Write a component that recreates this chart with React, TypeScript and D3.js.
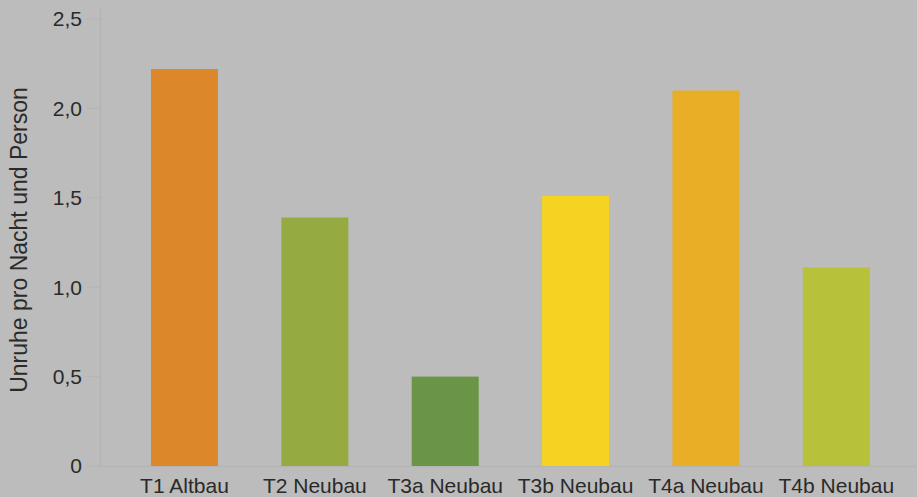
import React from "react";
import * as d3 from "d3";

const categories = ["T1 Altbau", "T2 Neubau", "T3a Neubau", "T3b Neubau", "T4a Neubau", "T4b Neubau"];
const values = [2.22, 1.39, 0.5, 1.51, 2.1, 1.11];
const colors = ["#dc8729", "#95ab42", "#6a9546", "#f5d320", "#e8af26", "#b7c23a"];
const yTicks = [0, 0.5, 1.0, 1.5, 2.0, 2.5];
const yTitle = "Unruhe pro Nacht und Person";

const W = 917;
const H = 497;

export default function App() {
  const y = d3.scaleLinear().domain([0, 2.5]).range([466, 19]);
  const x = d3.scaleBand<string>().domain(categories).range([119.3, 901.5]).paddingInner(0.486).paddingOuter(0.243);
  const fmt = (v: number) => (v === 0 ? "0" : d3.format(".1f")(v).replace(".", ","));
  const font = "'Liberation Sans', Arial, Helvetica, sans-serif";
  return (
    <svg width={W} height={H} style={{ position: "absolute", left: 0, top: 0, display: "block" }}>
      <rect x={0} y={0} width={W} height={H} fill="#bbbcbb" />
      <line x1={100.5} x2={100.5} y1={8} y2={467} stroke="#b4b5b4" strokeWidth={1.5} />
      <line x1={100} x2={W} y1={466.5} y2={466.5} stroke="#b4b5b4" strokeWidth={1.5} />
      {yTicks.map((t) => (
        <g key={t}>
          <line x1={87} x2={100} y1={y(t)} y2={y(t)} stroke="#b4b5b4" strokeWidth={1} />
          <text x={82} y={y(t)} dy="0.35em" textAnchor="end" fontFamily={font} fontSize={21} fill="#2a2a2a">
            {fmt(t)}
          </text>
        </g>
      ))}
      {categories.map((c, i) => (
        <rect key={c} x={x(c)} y={y(values[i])} width={x.bandwidth()} height={y(0) - y(values[i])} fill={colors[i]} />
      ))}
      {categories.map((c) => (
        <text key={c} x={(x(c) as number) + x.bandwidth() / 2} y={493} textAnchor="middle" fontFamily={font} fontSize={21} fill="#2a2a2a">
          {c}
        </text>
      ))}
      <text transform={`translate(27,240) rotate(-90)`} textAnchor="middle" fontFamily={font} fontSize={23} fill="#2a2a2a">
        {yTitle}
      </text>
    </svg>
  );
}
